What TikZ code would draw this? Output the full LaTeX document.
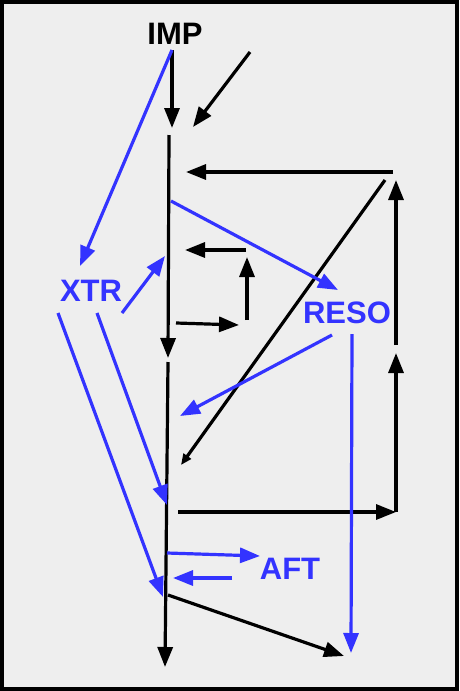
\documentclass[tikz,border=0pt]{standalone}
\usepackage{fontspec}
\setmainfont{Liberation Sans}
\usetikzlibrary{arrows.meta}
\definecolor{bgray}{HTML}{EEEEEE}
\definecolor{myblue}{HTML}{3333FF}
\tikzset{
  lbl/.style={font=\bfseries\fontsize{31}{36}\selectfont, inner sep=0pt, anchor=center},
  blk/.style={draw=black, line width=3.2pt, -{Triangle[length=20pt,width=15pt]}},
  blu/.style={draw=myblue, line width=3.2pt, -{Triangle[length=20pt,width=15pt]}},
  thinarr/.style={draw=black, line width=3.2pt, -{Triangle[length=11pt,width=9pt]}},
}
\begin{document}
\begin{tikzpicture}[x=1pt,y=-1pt]
\useasboundingbox (0,0) rectangle (459,691);
\draw[fill=bgray, line width=4.5pt] (2,2) rectangle (457,689);
% labels
\node[lbl] (imp) at (175,34) {IMP};
\node[lbl, text=myblue] (xtr) at (91,291) {XTR};
\node[lbl, text=myblue] (reso) at (347,313) {RESO};
\node[lbl, text=myblue] (aft) at (290,569) {AFT};
% coordinates
\coordinate (i0) at (172,50);
\coordinate (i1) at (172,128);
\coordinate (d0) at (250,52);
\coordinate (d1) at (193,127);
\coordinate (m0) at (169,135);
\coordinate (m1) at (168,358);
\coordinate (m2) at (168,362);
\coordinate (m3) at (165,667);
\coordinate (h0) at (393,172);
\coordinate (h1) at (186,172);
\coordinate (b0) at (178,512);
\coordinate (b1) at (396,512);
\coordinate (v0) at (396,512);
\coordinate (v1) at (396,353);
\coordinate (v2) at (396,345);
\coordinate (v3) at (396,180);
\coordinate (g0) at (385,180);
\coordinate (g1) at (181,465);
\coordinate (s0) at (176,323);
\coordinate (s1) at (239,325);
\coordinate (s2) at (247,320);
\coordinate (s3) at (247,257);
\coordinate (s4) at (246,250);
\coordinate (s5) at (185,250);
\coordinate (x0) at (172,50);
\coordinate (x1) at (80,266);
\coordinate (x2) at (122,313);
\coordinate (x3) at (165,256);
\coordinate (r0) at (171,201);
\coordinate (r1) at (338,290);
\coordinate (r2) at (332,335);
\coordinate (r3) at (180,416);
\coordinate (r4) at (352,334);
\coordinate (r5) at (351,653);
\coordinate (y0) at (58,313);
\coordinate (y1) at (163,597);
\coordinate (z0) at (97,313);
\coordinate (z1) at (167,505);
\coordinate (a0) at (167,553);
\coordinate (a1) at (260,556);
\coordinate (a2) at (232,578);
\coordinate (a3) at (173,578);
\coordinate (e0) at (168,595);
\coordinate (e1) at (344,656);
% black arrows
\draw[blk] (i0) -- (i1);
\draw[blk] (d0) -- (d1);
\draw[blk] (m0) -- (m1);
\draw[blk] (m2) -- (m3);
\draw[blk] (h0) -- (h1);
\draw[blk] (b0) -- (b1);
\draw[blk] (v0) -- (v1);
\draw[blk] (v2) -- (v3);
\draw[thinarr] (g0) -- (g1);
\draw[blk] (s0) -- (s1);
\draw[blk] (s2) -- (s3);
\draw[blk] (s4) -- (s5);
\draw[blk] (e0) -- (e1);
% blue arrows
\draw[blu] (x0) -- (x1);
\draw[blu] (x2) -- (x3);
\draw[blu] (r0) -- (r1);
\draw[blu] (r2) -- (r3);
\draw[blu] (r4) -- (r5);
\draw[blu] (y0) -- (y1);
\draw[blu] (z0) -- (z1);
\draw[blu] (a0) -- (a1);
\draw[blu] (a2) -- (a3);
\end{tikzpicture}
\end{document}
